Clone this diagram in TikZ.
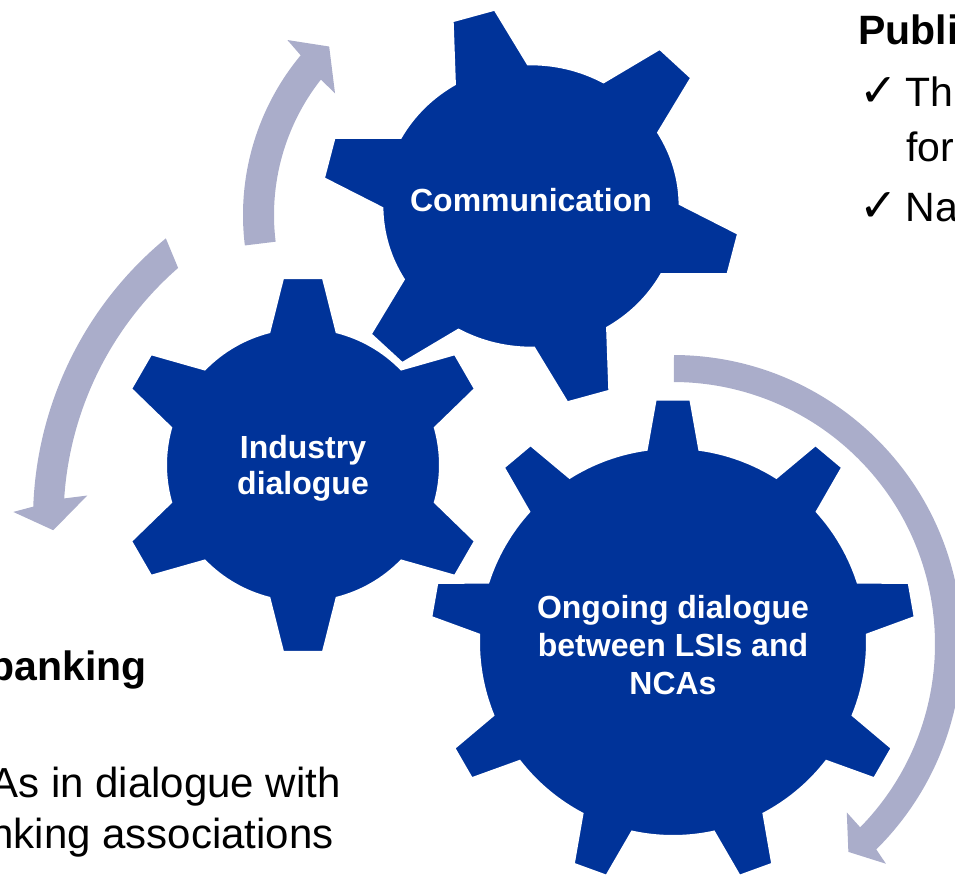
\documentclass[tikz,border=0pt]{standalone}
\usepackage{fontspec}
\setmainfont{Liberation Sans}
\newfontfamily\symfont{DejaVu Sans}
\definecolor{gearblue}{RGB}{0,51,153}
\definecolor{arrowgray}{RGB}{170,173,202}
\tikzset{
  gearshape/.style={fill=gearblue, draw=white, line width=1pt},
  cyclearrow/.style={fill=arrowgray},
  gearlabel/.style={text=white, font=\bfseries\fontsize{16}{18.5}\selectfont, align=center, inner sep=0pt},
  headtext/.style={font=\bfseries\fontsize{20.5}{24}\selectfont, inner sep=0pt},
  bodytext/.style={font=\fontsize{21}{25.5}\selectfont, inner sep=0pt},
  listtext/.style={font=\fontsize{20.5}{24}\selectfont, inner sep=0pt},
  checktext/.style={font=\symfont\fontsize{23}{24}\selectfont, inner sep=0pt},
}
\begin{document}
\begin{tikzpicture}[x=0.5pt, y=0.5pt]
\path[use as bounding box] (0,0) rectangle (955,875);
\clip (0,0) rectangle (955,875);

% circular arrows
\begin{scope}[shift={(493,660)}]
  \fill[cyclearrow] (187:250) arc[start angle=187, end angle=140.3, radius=250]
    -- (139.6:270) -- (134.2:235) -- (142.4:199.4) -- (141.8:219)
    arc[start angle=141.8, end angle=187, radius=219] -- cycle;
\end{scope}
\begin{scope}[shift={(398,355)}]
  \fill[cyclearrow] (129.5:365) arc[start angle=129.5, end angle=177.9, radius=365]
    -- (178.8:384.8) -- (181.7:344.9) -- (175.5:311.7) -- (176.3:334.5)
    arc[start angle=176.3, end angle=131.1, radius=334.5] -- cycle;
\end{scope}
\begin{scope}[shift={(673,231)}]
  \fill[cyclearrow] (89.8:289) arc[start angle=89.8, end angle=-45.3, radius=289]
    -- (-45.9:306) -- (-49.85:272) -- (-44.1:242) -- (-44.4:262)
    arc[start angle=-44.4, end angle=89.8, radius=262] -- cycle;
\end{scope}

% gear 1: Communication
\begin{scope}[shift={(531,669)}, xscale=1.025, yscale=0.977]
  \fill[gearshape] ({106-14.8}:145) \foreach \k in {0,...,5}{
    -- ({106+60*\k-6}:204) -- ({106+60*\k+6}:204) -- ({106+60*\k+14.8}:145)
    arc[start angle={106+60*\k+14.8}, end angle={166+60*\k-14.8}, radius=145] } -- cycle;
\end{scope}
% gear 2: Industry dialogue
\begin{scope}[shift={(303,410)}]
  \fill[gearshape] ({90-14.2}:137) \foreach \k in {0,...,5}{
    -- ({90+60*\k-6.1}:188) -- ({90+60*\k+6.1}:188) -- ({90+60*\k+14.2}:137)
    arc[start angle={90+60*\k+14.2}, end angle={150+60*\k-14.2}, radius=137] } -- cycle;
\end{scope}
% gear 3: Ongoing dialogue
\begin{scope}[shift={(673,233)}]
  \fill[gearshape] ({90-7.8}:194) \foreach \k in {0,...,8}{
    -- ({90+40*\k-4.1}:243) -- ({90+40*\k+4.1}:243) -- ({90+40*\k+7.8}:194)
    arc[start angle={90+40*\k+7.8}, end angle={130+40*\k-7.8}, radius=194] } -- cycle;
\end{scope}

% gear labels
\node[gearlabel, anchor=base] (comm) at (531,663) {Communication};
\node[gearlabel, font=\bfseries\fontsize{16}{18}\selectfont] (industry) at (303,407) {Industry\\dialogue};
\node[gearlabel, font=\bfseries\fontsize{16}{19}\selectfont] (ongoing) at (673,230) {Ongoing dialogue\\between LSIs and\\NCAs};

% right text (cropped)
\node[headtext, anchor=base west] (publi) at (858,830) {Publi};
\node[checktext, anchor=base west] (chk1) at (859,768) {✓};
\node[listtext, anchor=base west] (th) at (905,768) {Th};
\node[listtext, anchor=base west] (for) at (906,713) {for};
\node[checktext, anchor=base west] (chk2) at (859,653) {✓};
\node[listtext, anchor=base west] (na) at (905,653) {Na};

% left text (cropped)
\node[headtext, anchor=base east] (banking) at (147,195) {banking};
\node[bodytext, anchor=base east] (asin) at (341,78) {As in dialogue with};
\node[bodytext, anchor=base east] (nking) at (334,27) {nking associations};
\end{tikzpicture}
\end{document}
